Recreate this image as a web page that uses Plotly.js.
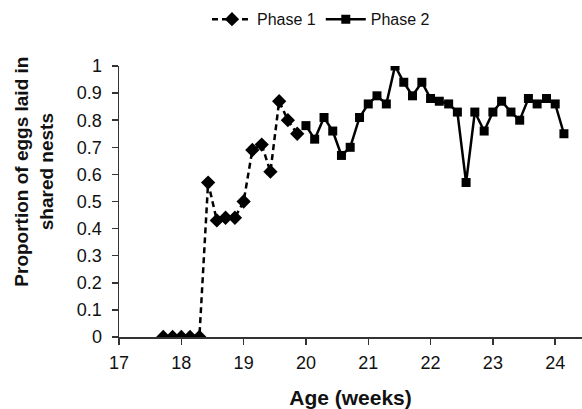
<!DOCTYPE html>
<html>
<head>
<meta charset="utf-8">
<script src="https://cdn.plot.ly/plotly-3.0.1.min.js"></script>
<style>html,body{margin:0;padding:0;background:#fff;}#chart{width:582px;height:409px;}</style>
</head>
<body>
<div id="chart"></div>
<script>
var phase1Age = [17.71, 17.86, 18.0, 18.14, 18.29, 18.43, 18.57, 18.71, 18.86, 19.0, 19.14, 19.29, 19.43, 19.57, 19.71, 19.86];
var phase1Prop = [0, 0, 0, 0, 0, 0.57, 0.43, 0.44, 0.44, 0.50, 0.69, 0.71, 0.61, 0.87, 0.80, 0.75];
var phase2Age = [20.0, 20.14, 20.29, 20.43, 20.57, 20.71, 20.86, 21.0, 21.14, 21.29, 21.43, 21.57, 21.71, 21.86, 22.0, 22.14, 22.29, 22.43, 22.57, 22.71, 22.86, 23.0, 23.14, 23.29, 23.43, 23.57, 23.71, 23.86, 24.0, 24.14];
var phase2Prop = [0.78, 0.73, 0.81, 0.76, 0.67, 0.70, 0.81, 0.86, 0.89, 0.86, 1.0, 0.94, 0.89, 0.94, 0.88, 0.87, 0.86, 0.83, 0.57, 0.83, 0.76, 0.83, 0.87, 0.83, 0.80, 0.88, 0.86, 0.88, 0.86, 0.75];
var xTicks = [17, 18, 19, 20, 21, 22, 23, 24];
var yTicks = [0, 0.1, 0.2, 0.3, 0.4, 0.5, 0.6, 0.7, 0.8, 0.9, 1];
var yTickText = ['0', '0.1', '0.2', '0.3', '0.4', '0.5', '0.6', '0.7', '0.8', '0.9', '1'];
var yTitle = 'Proportion of eggs laid in<br>shared nests';

var font = 'Liberation Sans, Arial, sans-serif';
var traces = [
  {x: phase1Age, y: phase1Prop, name: 'Phase 1', mode: 'lines+markers', type: 'scatter',
   line: {color: '#000', width: 2.5, dash: '6px,4px'},
   marker: {symbol: 'diamond', size: 11, color: '#000'}},
  {x: phase2Age, y: phase2Prop, name: 'Phase 2', mode: 'lines+markers', type: 'scatter',
   line: {color: '#000', width: 2.5},
   marker: {symbol: 'square', size: 9, color: '#000'}}
];
var layout = {
  width: 582, height: 409,
  margin: {l: 119, r: 0, t: 66, b: 72},
  paper_bgcolor: '#fff', plot_bgcolor: '#fff',
  font: {family: font, color: '#111', size: 18},
  showlegend: true,
  legend: {orientation: 'h', x: 0.19, xanchor: 'left', y: 1.235, yanchor: 'top',
           font: {family: font, size: 16, color: '#111'}, itemwidth: 40, tracegroupgap: 0},
  xaxis: {range: [17, 24.43], tickvals: xTicks, ticktext: xTicks.map(String),
          showgrid: false, zeroline: false, showline: true, linecolor: '#333', linewidth: 1.5,
          ticks: 'outside', ticklen: 6, tickcolor: '#333', tickwidth: 1.5, ticklabelstandoff: 3,
          tickfont: {family: font, size: 18, color: '#111'},
          title: {text: '<b>Age (weeks)</b>', font: {family: font, size: 21, color: '#111'}, standoff: 18}},
  yaxis: {range: [0, 1], tickvals: yTicks, ticktext: yTickText,
          showgrid: false, zeroline: false, showline: true, linecolor: '#333', linewidth: 1.5,
          ticks: 'outside', ticklen: 6, tickcolor: '#333', tickwidth: 1.5, ticklabelstandoff: 6,
          tickfont: {family: font, size: 18, color: '#111'}},
  annotations: [{text: '<b>' + yTitle + '</b>', xref: 'paper', yref: 'paper', x: 0, y: 0.61,
                 xanchor: 'center', yanchor: 'middle', xshift: -85, textangle: -90, showarrow: false,
                 font: {family: font, size: 19, color: '#111'}}]
};
Plotly.newPlot('chart', traces, layout, {displayModeBar: false, staticPlot: true});
</script>
</body>
</html>
